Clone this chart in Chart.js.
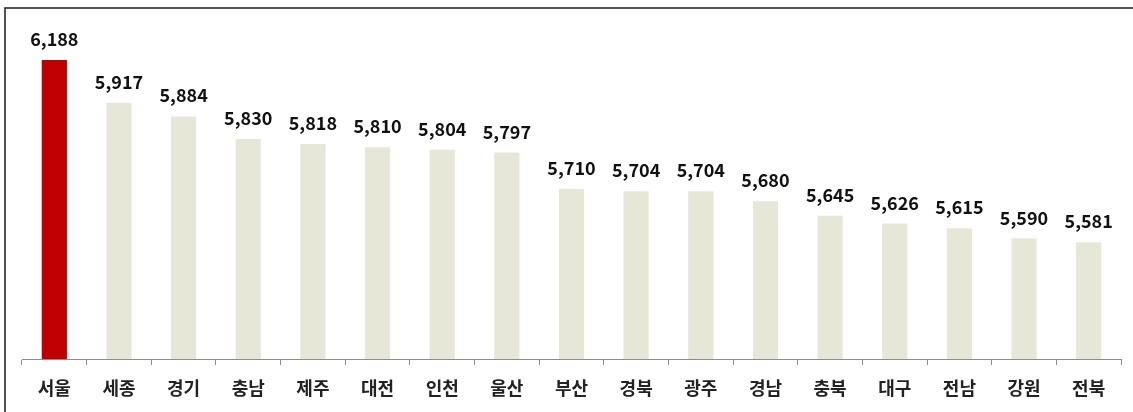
<!DOCTYPE html>
<html>
<head>
<meta charset="utf-8">
<script src="https://cdn.jsdelivr.net/npm/chart.js@4.4.0/dist/chart.umd.min.js"></script>
<style>
  html, body { margin: 0; padding: 0; background: #fff; }
  #wrap { position: relative; width: 1133px; height: 412px; }
</style>
</head>
<body>
<div id="wrap"><canvas id="c" width="1133" height="412"></canvas></div>
<script>
const categories = ['서울','세종','경기','충남','제주','대전','인천','울산','부산','경북','광주','경남','충북','대구','전남','강원','전북'];
const values = [6188, 5917, 5884, 5830, 5818, 5810, 5804, 5797, 5710, 5704, 5704, 5680, 5645, 5626, 5615, 5590, 5581];
const highlightIndex = 0;

const FONT = '"Noto Sans CJK KR", "Noto Sans", sans-serif';

const frame = {
  id: 'frame',
  beforeDraw(chart) {
    const ctx = chart.ctx;
    ctx.save();
    ctx.fillStyle = '#ffffff';
    ctx.fillRect(0, 0, chart.width, chart.height);
    ctx.strokeStyle = '#1a1a1a';
    ctx.lineWidth = 1.5;
    ctx.strokeRect(5, 8, chart.width + 20, chart.height + 20);
    ctx.restore();
  }
};

const valueLabels = {
  id: 'valueLabels',
  afterDatasetsDraw(chart) {
    const ctx = chart.ctx;
    const meta = chart.getDatasetMeta(0);
    const top = chart.chartArea.top;
    ctx.save();
    ctx.font = 'bold 18px ' + FONT;
    ctx.fillStyle = '#111111';
    ctx.textAlign = 'center';
    ctx.textBaseline = 'alphabetic';
    meta.data.forEach((bar, i) => {
      const y = Math.max(bar.y, top);
      ctx.fillText(values[i].toLocaleString('en-US'), bar.x, y - 14);
    });
    ctx.restore();
  }
};

new Chart(document.getElementById('c'), {
  type: 'bar',
  data: {
    labels: categories,
    datasets: [{
      data: values,
      backgroundColor: values.map((v, i) => i === highlightIndex ? '#C00000' : '#E7E7D8'),
      borderWidth: 0,
      barPercentage: 0.39,
      categoryPercentage: 1.0
    }]
  },
  options: {
    responsive: false,
    animation: false,
    devicePixelRatio: 1,
    layout: { padding: { top: 60, left: 22, right: 12, bottom: 0 } },
    plugins: { legend: { display: false }, tooltip: { enabled: false } },
    scales: {
      y: {
        display: false,
        min: 5300,
        max: 6020
      },
      x: {
        offset: true,
        grid: {
          offset: true,
          drawOnChartArea: false,
          drawTicks: true,
          tickLength: 6,
          color: '#8c8c8c',
          lineWidth: 1
        },
        border: { display: true, color: '#8c8c8c', width: 1 },
        ticks: {
          color: '#222222',
          font: { family: FONT, size: 18, weight: 'bold' },
          padding: 12,
          maxRotation: 0,
          autoSkip: false
        },
        afterFit(scale) { scale.height = 53; }
      }
    }
  },
  plugins: [frame, valueLabels]
});
</script>
</body>
</html>
